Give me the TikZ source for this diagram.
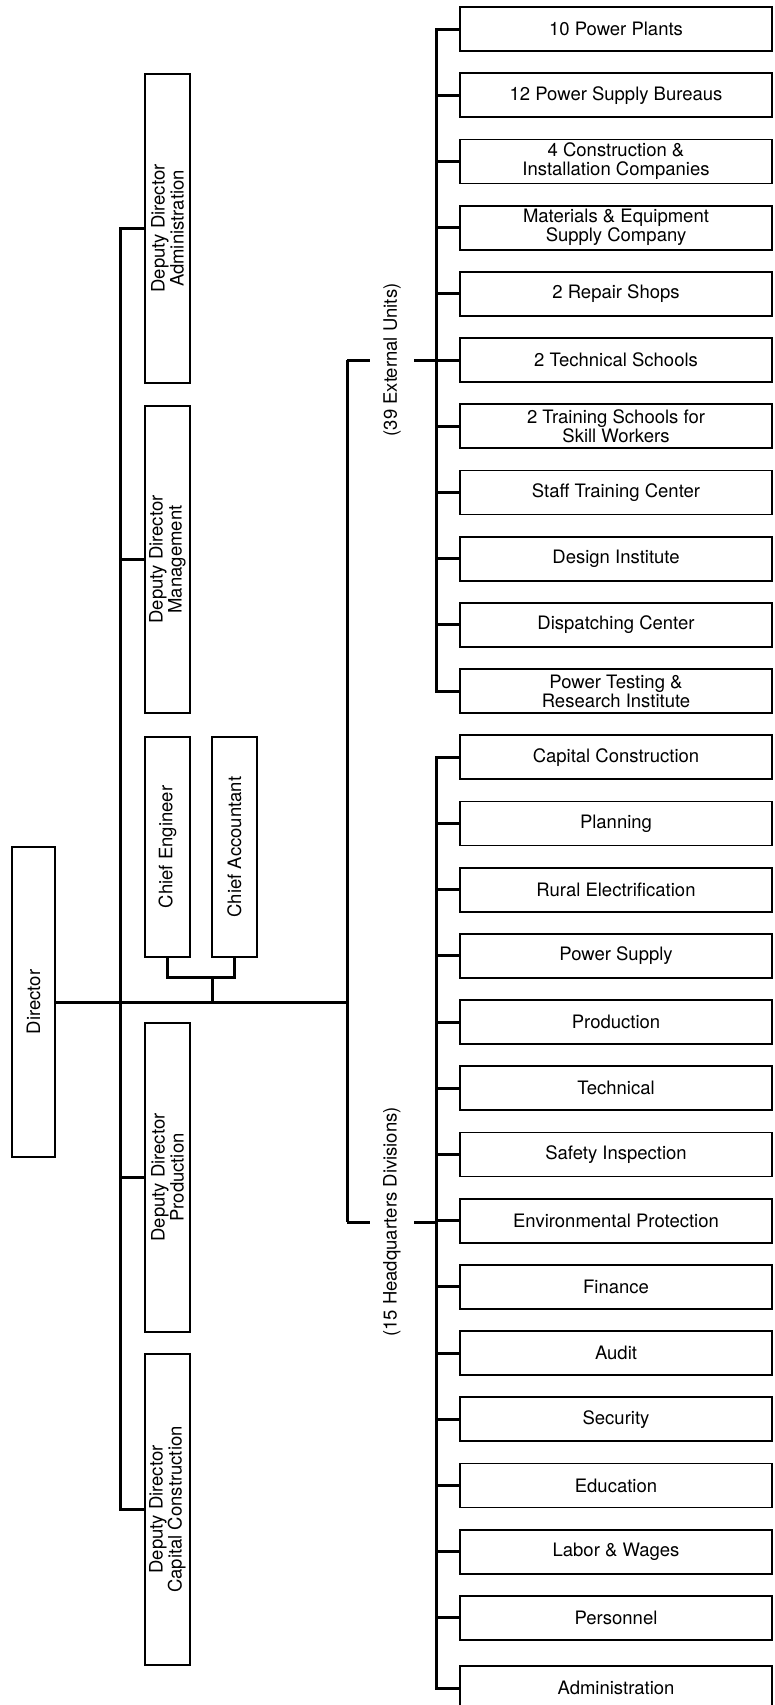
\documentclass[tikz,border=0pt]{standalone}
\usepackage{fontspec}
\setmainfont{TeX Gyre Heros}
\usepackage{tikz}

\begin{document}
\begin{tikzpicture}[x=1pt, y=-1pt,
    every node/.style={font=\fontsize{18.5}{19}\selectfont},
    unitbox/.style={draw, line width=1.8pt, minimum width=312pt, minimum height=44pt, align=center, inner sep=2pt},
    postbox/.style={draw, line width=1.8pt, rotate=90, minimum height=45pt, align=center, inner sep=2pt},
    conn/.style={line width=3pt},
    grplabel/.style={fill=white, rotate=90, inner sep=13pt}]
    \useasboundingbox (0,0) rectangle (774,1705);

    % Director and posts
    \node[postbox, minimum width=310pt, minimum height=43pt] (dir) at (33.5,1002) {Director};
    \node[postbox, minimum width=309pt] (dda) at (167.5,228.5) {Deputy Director\\Administration};
    \node[postbox, minimum width=307pt] (ddm) at (167.5,559.5) {Deputy Director\\Management};
    \node[postbox, minimum width=220pt] (ce) at (167.5,847) {Chief Engineer};
    \node[postbox, minimum width=220pt] (ca) at (234.5,847) {Chief Accountant};
    \node[postbox, minimum width=309pt] (ddp) at (167.5,1177.5) {Deputy Director\\Production};
    \node[postbox, minimum width=311pt] (ddc) at (167.5,1509.5) {Deputy Director\\Capital Construction};

    % External units
    \node[unitbox] (u1) at (616,29) {10 Power Plants};
    \node[unitbox] (u2) at (616,95.2) {12 Power Supply Bureaus};
    \node[unitbox] (u3) at (616,161.4) {4 Construction \&\\Installation Companies};
    \node[unitbox] (u4) at (616,227.6) {Materials \& Equipment\\Supply Company};
    \node[unitbox] (u5) at (616,293.8) {2 Repair Shops};
    \node[unitbox] (u6) at (616,360) {2 Technical Schools};
    \node[unitbox] (u7) at (616,426.2) {2 Training Schools for\\Skill Workers};
    \node[unitbox] (u8) at (616,492.4) {Staff Training Center};
    \node[unitbox] (u9) at (616,558.6) {Design Institute};
    \node[unitbox] (u10) at (616,624.8) {Dispatching Center};
    \node[unitbox] (u11) at (616,691) {Power Testing \&\\Research Institute};

    % Headquarters divisions
    \node[unitbox] (h1) at (616,757.2) {Capital Construction};
    \node[unitbox] (h2) at (616,823.4) {Planning};
    \node[unitbox] (h3) at (616,889.6) {Rural Electrification};
    \node[unitbox] (h4) at (616,955.8) {Power Supply};
    \node[unitbox] (h5) at (616,1022) {Production};
    \node[unitbox] (h6) at (616,1088.2) {Technical};
    \node[unitbox] (h7) at (616,1154.4) {Safety Inspection};
    \node[unitbox] (h8) at (616,1220.6) {Environmental Protection};
    \node[unitbox] (h9) at (616,1286.8) {Finance};
    \node[unitbox] (h10) at (616,1353) {Audit};
    \node[unitbox] (h11) at (616,1419.2) {Security};
    \node[unitbox] (h12) at (616,1485.4) {Education};
    \node[unitbox] (h13) at (616,1551.6) {Labor \& Wages};
    \node[unitbox] (h14) at (616,1617.8) {Personnel};
    \node[unitbox] (h15) at (616,1688) {Administration};

    % Junction points
    \coordinate (extup) at (347,360);
    \coordinate (extbr) at (437,360);
    \coordinate (hqdown) at (347,1222);
    \coordinate (hqbr) at (437,1222);
    \coordinate (chiefs) at (212,977);

    % Deputy directors
    \draw[conn] (dda.north) -- ++(-24,0) |- (ddc.north);
    \draw[conn] (ddm.north) -- ++(-24,0);
    \draw[conn] (ddp.north) -- ++(-24,0);

    % Chief engineer and chief accountant
    \draw[conn] (ce.west) -- ++(0,20) -| (ca.west);
    \draw[conn] (chiefs) -- (chiefs |- dir.south);

    % Director to the two groups
    \draw[conn] (dir.south) -- (dir.south -| extup);
    \draw[conn] (extup) -- (hqdown);
    \draw[conn] (extup) -- node[grplabel] {(39 External Units)} (extbr);
    \draw[conn] (hqdown) -- node[grplabel] {(15 Headquarters Divisions)} (hqbr);

    % External unit brackets
    \draw[conn] (u1.west) -- ++(-23,0) |- (u11.west);
    \draw[conn] (u2.west) -- ++(-23,0);
    \draw[conn] (u3.west) -- ++(-23,0);
    \draw[conn] (u4.west) -- ++(-23,0);
    \draw[conn] (u5.west) -- ++(-23,0);
    \draw[conn] (u6.west) -- ++(-23,0);
    \draw[conn] (u7.west) -- ++(-23,0);
    \draw[conn] (u8.west) -- ++(-23,0);
    \draw[conn] (u9.west) -- ++(-23,0);
    \draw[conn] (u10.west) -- ++(-23,0);

    % Headquarters division brackets
    \draw[conn] (h1.west) -- ++(-23,0) |- (h15.west);
    \draw[conn] (h2.west) -- ++(-23,0);
    \draw[conn] (h3.west) -- ++(-23,0);
    \draw[conn] (h4.west) -- ++(-23,0);
    \draw[conn] (h5.west) -- ++(-23,0);
    \draw[conn] (h6.west) -- ++(-23,0);
    \draw[conn] (h7.west) -- ++(-23,0);
    \draw[conn] (h8.west) -- ++(-23,0);
    \draw[conn] (h9.west) -- ++(-23,0);
    \draw[conn] (h10.west) -- ++(-23,0);
    \draw[conn] (h11.west) -- ++(-23,0);
    \draw[conn] (h12.west) -- ++(-23,0);
    \draw[conn] (h13.west) -- ++(-23,0);
    \draw[conn] (h14.west) -- ++(-23,0);
\end{tikzpicture}
\end{document}
